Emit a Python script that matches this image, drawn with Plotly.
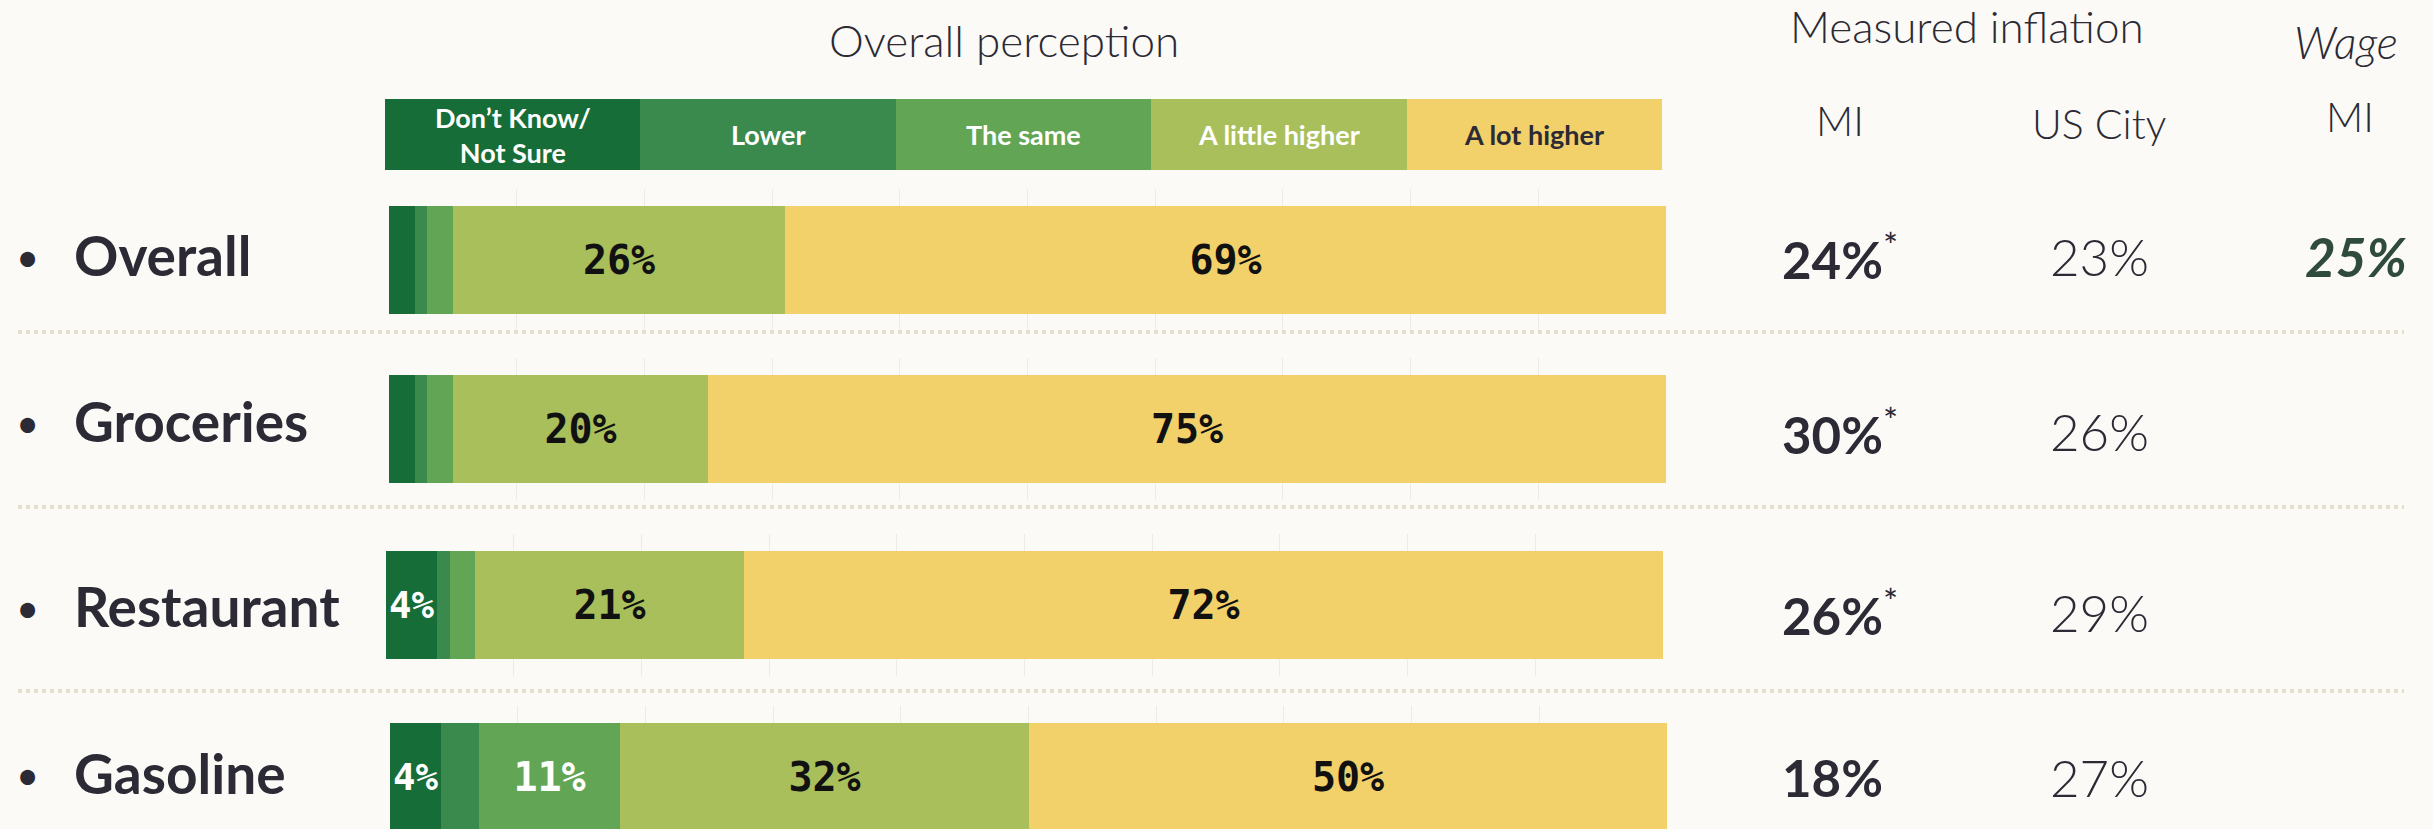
import plotly.graph_objects as go

# ---------------- data ----------------
categories = ["Don’t Know/<br>Not Sure", "Lower", "The same", "A little higher", "A lot higher"]
items = ["Overall", "Groceries", "Restaurant", "Gasoline"]
dont_know = [2, 2, 4, 4]
lower = [1, 1, 1, 3]
the_same = [2, 2, 2, 11]
a_little_higher = [26, 20, 21, 32]
a_lot_higher = [69, 75, 72, 50]
mi_inflation = [24, 30, 26, 18]
mi_significant = [True, True, True, False]
us_city_inflation = [23, 26, 29, 27]
wage_mi = [25, None, None, None]

shares = [dont_know, lower, the_same, a_little_higher, a_lot_higher]

# ---------------- style / layout ----------------
W, H = 2433, 829
BG = "#fbfaf6"
INK = "#2b2a35"
cat_colors = ["#166d38", "#3a8a4d", "#62a655", "#a8bf5c", "#f2d06a"]
legend_text_colors = ["#ffffff", "#ffffff", "#ffffff", "#ffffff", INK]
bar_text_colors = ["#ffffff", "#ffffff", "#ffffff", "#111111", "#111111"]
LABEL_MIN = 4

row_bar_px = [(206, 314), (375, 483), (551, 659), (723, 831)]
row_x_px = [(389, 1666), (389, 1666), (386, 1663), (390, 1667)]
GRID_EXT = 17
row_label_y_px = [255, 421, 606, 773]
row_value_y_px = [256, 431, 612, 777]
sep_y_px = [332, 507, 691]
legend_px = (385, 1662, 99, 170)


def fx(x):
    return x / W


def fy(y):
    return 1 - y / H


fig = go.Figure()
layout_axes = {}

# legend strip
lx0, lx1, ly0, ly1 = legend_px
for j, cat in enumerate(categories):
    fig.add_trace(go.Bar(
        x=[1], y=["key"], orientation="h", width=[1],
        marker=dict(color=cat_colors[j], line=dict(width=0)),
        xaxis="x", yaxis="y", showlegend=False, hoverinfo="skip"))
layout_axes["xaxis"] = dict(domain=[fx(lx0), fx(lx1)], range=[0, len(categories)],
                            visible=False, fixedrange=True, anchor="y")
layout_axes["yaxis"] = dict(domain=[fy(ly1), fy(ly0)], range=[-0.5, 0.5], type="category",
                            visible=False, fixedrange=True, anchor="x")

annotations = []
for j, cat in enumerate(categories):
    annotations.append(dict(
        x=j + 0.5, y="key", xref="x", yref="y", text=f"<b>{cat}</b>", showarrow=False,
        font=dict(family="Lato", size=27, color=legend_text_colors[j]),
        xanchor="center", yanchor="middle", align="center"))

# rows of stacked bars
for i, item in enumerate(items):
    k = i + 2
    btop, bbot = row_bar_px[i]
    h = bbot - btop
    top = btop - GRID_EXT
    bottom = min(bbot + GRID_EXT, H)
    for j in range(len(categories)):
        v = shares[j][i]
        bar_kwargs = dict(
            x=[v], y=[item], orientation="h", width=[1],
            marker=dict(color=cat_colors[j], line=dict(width=0)),
            xaxis=f"x{k}", yaxis=f"y{k}", showlegend=False, hoverinfo="skip")
        if v >= LABEL_MIN:
            bar_kwargs.update(
                text=[f"{v}%"], textposition="inside", insidetextanchor="middle",
                textangle=0,
                textfont=dict(family="DejaVu Sans Mono", size=40,
                              color=bar_text_colors[j], weight="bold"))
        else:
            bar_kwargs.update(textposition="none")
        fig.add_trace(go.Bar(**bar_kwargs))
    x0, x1 = row_x_px[i]
    layout_axes[f"xaxis{k}"] = dict(
        domain=[fx(x0), fx(x1)], range=[0, 100], dtick=10, showgrid=True,
        gridcolor="#ebebe8", gridwidth=1, showticklabels=False, zeroline=False,
        showline=False, ticks="", fixedrange=True, anchor=f"y{k}")
    layout_axes[f"yaxis{k}"] = dict(
        domain=[fy(bottom), fy(top)],
        range=[-0.5 - (bottom - bbot) / h, 0.5 + (btop - top) / h],
        type="category", showgrid=False, showticklabels=False, zeroline=False,
        showline=False, ticks="", fixedrange=True, anchor=f"x{k}")

    # row label
    annotations.append(dict(x=fx(14), y=fy(row_label_y_px[i] + 2), xref="paper", yref="paper",
                            text="•", showarrow=False, xanchor="left", yanchor="middle",
                            font=dict(family="Lato", size=40, color=INK)))
    annotations.append(dict(x=fx(72), y=fy(row_label_y_px[i]), xref="paper", yref="paper",
                            text=f"<b>{item}</b>", showarrow=False, xanchor="left",
                            yanchor="middle", font=dict(family="Lato", size=55, color=INK)))
    # measured inflation MI
    star = "<sup>*</sup>" if mi_significant[i] else ""
    annotations.append(dict(x=fx(1780), y=fy(row_value_y_px[i]), xref="paper", yref="paper",
                            text=f"<b>{mi_inflation[i]}%</b>{star}", showarrow=False,
                            xanchor="left", yanchor="middle",
                            font=dict(family="Lato", size=51, color=INK)))
    # US city
    annotations.append(dict(x=fx(2099), y=fy(row_value_y_px[i]), xref="paper", yref="paper",
                            text=f"{us_city_inflation[i]}%", showarrow=False,
                            xanchor="center", yanchor="middle",
                            font=dict(family="Lato", size=51, color=INK, weight=300)))
    # wage
    if wage_mi[i] is not None:
        annotations.append(dict(x=fx(2356), y=fy(row_value_y_px[i]), xref="paper", yref="paper",
                                text=f"<b><i>{wage_mi[i]}%</i></b>", showarrow=False,
                                xanchor="center", yanchor="middle",
                                font=dict(family="Lato", size=53, color="#2f4b3b")))

# headers
headers = [
    ("Overall perception", 1004, 40, 44),
    ("Measured inflation", 1967, 26, 44),
    ("<i>Wage</i>", 2346, 42, 45),
    ("MI", 1840, 121, 41),
    ("US City", 2099, 123, 41),
    ("MI", 2350, 117, 41),
]
for txt, x, y, size in headers:
    annotations.append(dict(x=fx(x), y=fy(y), xref="paper", yref="paper", text=txt,
                            showarrow=False, xanchor="center", yanchor="middle",
                            font=dict(family="Lato", size=size, color=INK, weight=300)))

shapes = []
for y in sep_y_px:
    shapes.append(dict(type="line", xref="paper", yref="paper", x0=fx(18), x1=fx(2404),
                       y0=fy(y), y1=fy(y), line=dict(color="#e3dfcb", width=4, dash="dot")))

fig.update_layout(
    width=W, height=H, margin=dict(l=0, r=0, t=0, b=0),
    paper_bgcolor=BG, plot_bgcolor=BG, barmode="stack", bargap=0,
    showlegend=False, annotations=annotations, shapes=shapes,
    font=dict(family="Lato", color=INK),
    **layout_axes)

fig.write_html("out.html",
               config={"displayModeBar": False},
               post_script="document.body.style.margin='0';document.body.style.padding='0';"
                           "document.body.style.overflow='hidden';"
                           "document.body.style.background='" + BG + "';")
